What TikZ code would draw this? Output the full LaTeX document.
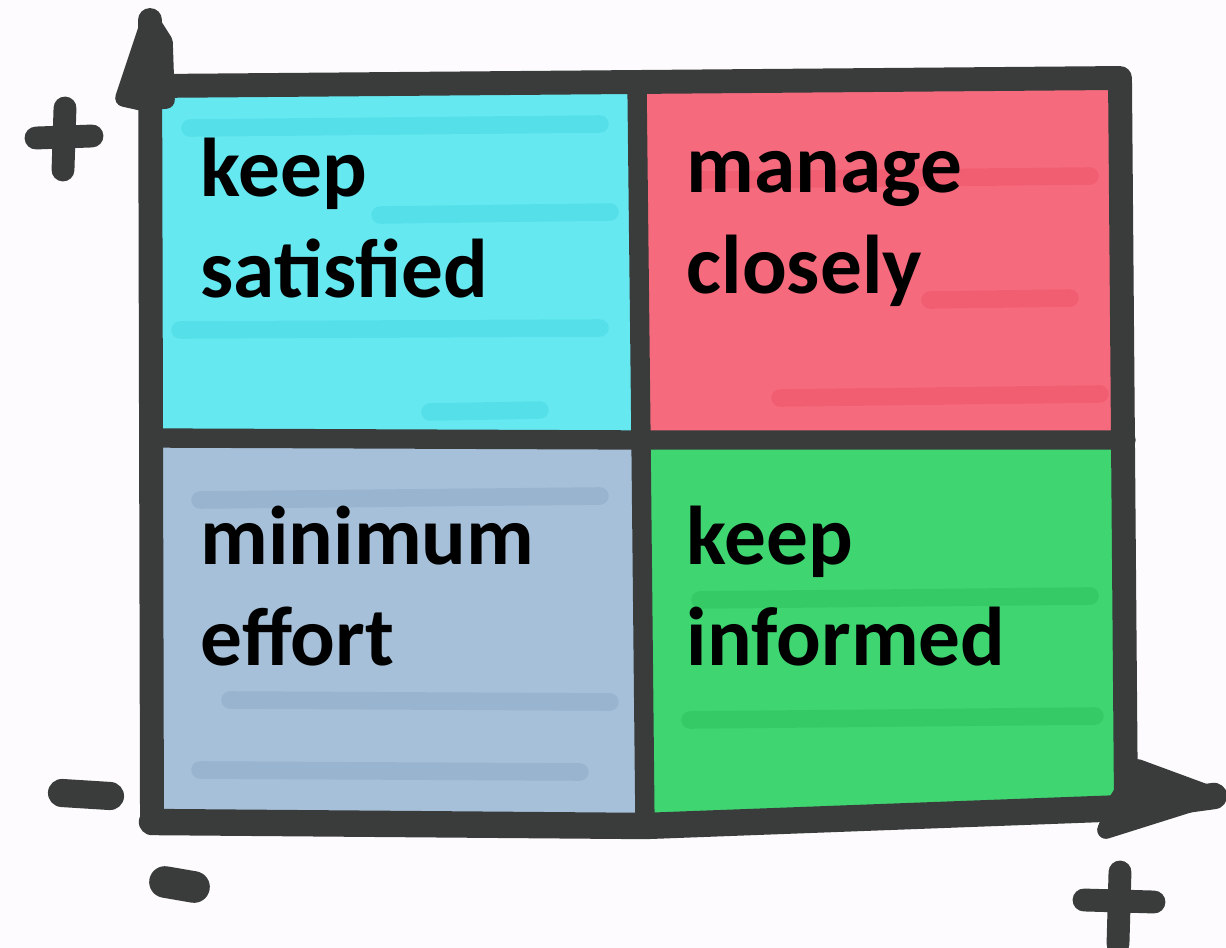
\documentclass[tikz,border=0pt]{standalone}
\usepackage{fontspec}
\setmainfont{Carlito}
\usetikzlibrary{positioning}
\definecolor{marker}{HTML}{3A3C3C}
\definecolor{cellcyan}{HTML}{66E8F1}
\definecolor{cellred}{HTML}{F56B7D}
\definecolor{cellblue}{HTML}{A6C0D9}
\definecolor{cellgreen}{HTML}{3FD571}
\definecolor{streakcyan}{HTML}{2FD0D8}
\definecolor{streakred}{HTML}{EE4058}
\definecolor{streakblue}{HTML}{7C9AB8}
\definecolor{streakgreen}{HTML}{22B24E}
\definecolor{paper}{HTML}{FDFBFD}
\begin{document}
\begin{tikzpicture}[x=0.01cm,y=-0.01cm,
  pen/.style={draw=marker, line width=6.8pt, line cap=round, line join=round},
  sign/.style={draw=marker, line width=6.5pt, line cap=round},
  arrowblob/.style={fill=marker, draw=marker, line width=5pt, line join=round},
  streak/.style={line width=5pt, line cap=round, opacity=0.3},
  quadtext/.style={font=\fontsize{23.7pt}{28.5pt}\selectfont\bfseries,
    anchor=base west, align=left, inner sep=0pt}]
  \useasboundingbox[fill=paper] (0,0) rectangle (1226,948);
  % corners of the grid
  \coordinate (tl) at (152,86);
  \coordinate (tm) at (637,84);
  \coordinate (tr) at (1120,78);
  \coordinate (ml) at (152,438);
  \coordinate (mm) at (641,440);
  \coordinate (mr) at (1126,440);
  \coordinate (bl) at (152,822);
  \coordinate (bm) at (645,826);
  \coordinate (br) at (1126,808);
  \coordinate (ytip) at (150,20);
  \coordinate (xtip) at (1214,796);
  % quadrants
  \fill[cellcyan] (tl) -- (tm) -- (mm) -- (ml) -- cycle;
  \fill[cellred] (tm) -- (tr) -- (mr) -- (mm) -- cycle;
  \fill[cellblue] (ml) -- (mm) -- (bm) -- (bl) -- cycle;
  \fill[cellgreen] (mm) -- (mr) -- (br) -- (bm) -- cycle;
  % marker streaks
  \draw[streak, streakcyan] (190,128) -- (600,124);
  \draw[streak, streakcyan] (380,215) -- (610,212);
  \draw[streak, streakcyan] (180,330) -- (600,328);
  \draw[streak, streakcyan] (430,412) -- (540,410);
  \draw[streak, streakred] (700,180) -- (1090,176);
  \draw[streak, streakred] (930,300) -- (1070,298);
  \draw[streak, streakred] (780,398) -- (1100,394);
  \draw[streak, streakblue] (200,500) -- (600,496);
  \draw[streak, streakblue] (230,700) -- (610,702);
  \draw[streak, streakblue] (200,770) -- (580,772);
  \draw[streak, streakgreen] (700,600) -- (1090,596);
  \draw[streak, streakgreen] (690,720) -- (1095,716);
  % grid lines and axes
  \draw[pen] (tl) -- (tr) -- (br);
  \draw[pen] (bl) -- (ytip);
  \draw[pen, line width=7.5pt] (bl) -- (bm) -- (br) -- (xtip);
  \draw[pen, line width=5.5pt] (tm) -- (mm) -- (bm);
  \draw[pen, line width=5.5pt] (ml) -- (mm) -- (mr);
  % arrow heads
  \filldraw[arrowblob] (ytip) -- (124,98) -- (142,102) -- (166,100) -- (164,42) -- cycle;
  \filldraw[arrowblob] (1138,768) -- (xtip) -- (1106,830) -- (1118,800) -- cycle;
  % signs
  \draw[sign] (36,138) -- (92,136);
  \draw[sign] (65,108) -- (63,170);
  \draw[sign] (1084,900) -- (1154,902);
  \draw[sign] (1120,872) -- (1118,944);
  \draw[sign, line width=8pt] (62,793) -- (110,796);
  \draw[sign, line width=9pt] (165,882) -- (194,887);
  % quadrant labels
  \node[quadtext] (satisfied) at (200,297) {keep\\satisfied};
  \node[quadtext] (closely) at (686,293) {manage\\closely};
  \node[quadtext] (effort) at (200,665) {minimum\\effort};
  \node[quadtext] (informed) at (686,665) {keep\\informed};
\end{tikzpicture}
\end{document}
